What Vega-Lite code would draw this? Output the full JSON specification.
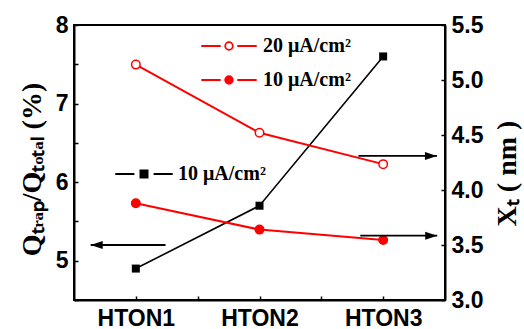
{
  "$schema": "https://vega.github.io/schema/vega-lite/v6.json",
  "width": 371,
  "height": 275,
  "autosize": {"type": "none"},
  "padding": {"left": 74, "top": 25, "right": 79, "bottom": 29},
  "background": "white",
  "config": {
    "view": {"stroke": "black", "strokeWidth": 2},
    "axis": {
      "grid": false,
      "domainColor": "black",
      "domainWidth": 2,
      "tickColor": "black",
      "tickWidth": 1.5,
      "labelFont": "Liberation Sans",
      "labelFontWeight": "bold",
      "labelFontSize": 23,
      "labelColor": "black",
      "labelOverlap": false,
      "labelFlush": false,
      "titleFont": "Liberation Serif",
      "titleFontWeight": "bold",
      "titleFontSize": 28,
      "titleColor": "black"
    }
  },
  "datasets": {
    "q": [
      {"sample": 1, "current": "10 μA/cm²", "value": 4.9},
      {"sample": 2, "current": "10 μA/cm²", "value": 5.7},
      {"sample": 3, "current": "10 μA/cm²", "value": 7.6}
    ],
    "xt": [
      {"sample": 1, "current": "20 μA/cm²", "value": 5.14},
      {"sample": 2, "current": "20 μA/cm²", "value": 4.52},
      {"sample": 3, "current": "20 μA/cm²", "value": 4.235},
      {"sample": 1, "current": "10 μA/cm²", "value": 3.88},
      {"sample": 2, "current": "10 μA/cm²", "value": 3.64},
      {"sample": 3, "current": "10 μA/cm²", "value": 3.545}
    ],
    "arrows": [
      {"side": "left", "value": 5.2, "tail": 1.24, "tip": 0.635},
      {"side": "right", "value": 4.31, "tail": 2.8, "tip": 3.435},
      {"side": "right", "value": 3.585, "tail": 2.815, "tip": 3.437}
    ]
  },
  "layer": [
    {
      "data": {"name": "q"},
      "mark": {"type": "line", "color": "black", "strokeWidth": 1.6},
      "encoding": {
        "x": {"field": "sample", "type": "quantitative", "scale": {"domain": [0.5, 3.5], "nice": false, "zero": false},
          "axis": {"title": null, "values": [1, 1.5, 2, 2.5, 3], "tickSize": -4, "labelExpr": "datum.value % 1 === 0 ? 'HTON' + datum.value : ''", "labelPadding": 11}},
        "y": {"field": "value", "type": "quantitative", "scale": {"domain": [4.5, 8], "nice": false, "zero": false},
          "axis": {"title": "Qₜᵣₐₚ/Qₜₒₜₐₗ (%)", "values": [4.5, 5, 5.5, 6, 6.5, 7, 7.5, 8], "tickSize": -4, "labelExpr": "datum.value % 1 === 0 ? format(datum.value, '.0f') : ''", "labelPadding": 10, "titleAngle": -90, "titleX": -34, "titleY": 144, "titleAlign": "center", "titleBaseline": "alphabetic"}}
      }
    },
    {
      "layer": [
        {
          "data": {"name": "xt"},
          "mark": {"type": "line", "color": "#ff0000", "strokeWidth": 2},
          "encoding": {
            "x": {"field": "sample", "type": "quantitative"},
            "y": {"field": "value", "type": "quantitative", "scale": {"domain": [3, 5.5], "nice": false, "zero": false},
              "axis": {"orient": "right", "title": "Xₜ ( nm )", "values": [3, 3.25, 3.5, 3.75, 4, 4.25, 4.5, 4.75, 5, 5.25, 5.5], "tickSize": -4, "labelExpr": "(datum.value * 2) % 1 === 0 ? format(datum.value, '.1f') : ''", "labelPadding": 10, "titleAngle": -90, "titleX": 70, "titleY": 148, "titleAlign": "center", "titleBaseline": "alphabetic"}},
            "detail": {"field": "current"}
          }
        },
        {
          "data": {"name": "xt"},
          "mark": {"type": "point", "shape": "circle", "filled": true, "size": 72, "opacity": 1, "stroke": "#ff0000", "strokeWidth": 1.5},
          "encoding": {
            "x": {"field": "sample", "type": "quantitative"},
            "y": {"field": "value", "type": "quantitative"},
            "fill": {"field": "current", "type": "nominal", "scale": {"domain": ["20 μA/cm²", "10 μA/cm²"], "range": ["white", "#ff0000"]},
              "legend": {"orient": "none", "legendX": 144, "legendY": 10, "title": null,
                "symbolType": "M-2.77,0H-0.83M0.83,0H2.77M0.38,0A0.38,0.38,0,1,1,-0.38,0A0.38,0.38,0,1,1,0.38,0Z",
                "symbolSize": 400, "symbolStrokeColor": "#ff0000", "symbolStrokeWidth": 2, "symbolOpacity": 1,
                "rowPadding": 13,
                "labelOffset": 23, "labelFont": "Liberation Serif", "labelFontWeight": "bold", "labelFontSize": 20, "labelColor": "black",
                "encode": {"symbols": {"update": {"stroke": {"value": "#ff0000"}, "strokeWidth": {"value": 1.8}}}}}}
          }
        },
        {
          "data": {"name": "arrows"},
          "transform": [{"filter": "datum.side === 'right'"}],
          "mark": {"type": "rule", "color": "black", "strokeWidth": 1.8},
          "encoding": {
            "x": {"field": "tail", "type": "quantitative"},
            "x2": {"field": "tip"},
            "y": {"field": "value", "type": "quantitative"}
          }
        },
        {
          "data": {"name": "arrows"},
          "transform": [{"filter": "datum.side === 'right'"}],
          "mark": {"type": "point", "shape": "M0,0L-2.4,-0.8L-2.4,0.8Z", "filled": true, "color": "black", "size": 100, "opacity": 1, "strokeWidth": 0},
          "encoding": {
            "x": {"field": "tip", "type": "quantitative"},
            "y": {"field": "value", "type": "quantitative"}
          }
        }
      ]
    },
    {
      "data": {"name": "q"},
      "mark": {"type": "point", "shape": "square", "filled": true, "size": 64, "opacity": 1},
      "encoding": {
        "x": {"field": "sample", "type": "quantitative"},
        "y": {"field": "value", "type": "quantitative", "scale": {"domain": [4.5, 8], "nice": false, "zero": false}, "axis": null},
        "fill": {"field": "current", "type": "nominal", "scale": {"domain": ["10 μA/cm²"], "range": ["black"]},
          "legend": {"orient": "none", "legendX": 59, "legendY": 138, "title": null,
            "symbolType": "M-2.87,0H-0.96M0.96,0H2.87M-0.35,-0.35H0.35V0.35H-0.35Z",
            "symbolSize": 400, "symbolStrokeColor": "black", "symbolStrokeWidth": 2, "symbolOpacity": 1,
            "labelOffset": 23, "labelFont": "Liberation Serif", "labelFontWeight": "bold", "labelFontSize": 20, "labelColor": "black",
            "encode": {"symbols": {"update": {"stroke": {"value": "black"}, "strokeWidth": {"value": 2}}}}}}
      }
    },
    {
      "data": {"name": "arrows"},
      "transform": [{"filter": "datum.side === 'left'"}],
      "mark": {"type": "rule", "color": "black", "strokeWidth": 1.8},
      "encoding": {
        "x": {"field": "tail", "type": "quantitative"},
        "x2": {"field": "tip"},
        "y": {"field": "value", "type": "quantitative", "scale": {"domain": [4.5, 8], "nice": false, "zero": false}, "axis": null}
      }
    },
    {
      "data": {"name": "arrows"},
      "transform": [{"filter": "datum.side === 'left'"}],
      "mark": {"type": "point", "shape": "M0,0L2.4,-0.8L2.4,0.8Z", "filled": true, "color": "black", "size": 100, "opacity": 1, "strokeWidth": 0},
      "encoding": {
        "x": {"field": "tip", "type": "quantitative"},
        "y": {"field": "value", "type": "quantitative", "scale": {"domain": [4.5, 8], "nice": false, "zero": false}, "axis": null}
      }
    }
  ],
  "resolve": {"scale": {"y": "independent", "fill": "independent"}}
}
